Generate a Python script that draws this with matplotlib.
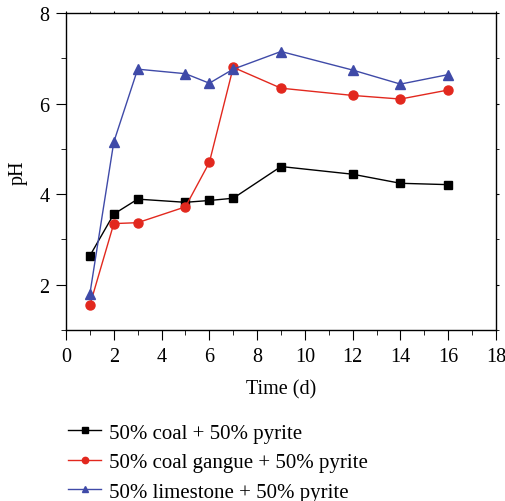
import matplotlib
matplotlib.use("Agg")
import matplotlib.pyplot as plt
from matplotlib.ticker import MultipleLocator

plt.rcParams['font.family'] = ['Liberation Serif', 'DejaVu Serif']

days = [1, 2, 3, 5, 6, 7, 9, 12, 14, 16]
ph_coal = [2.64, 3.56, 3.89, 3.82, 3.86, 3.91, 4.61, 4.44, 4.24, 4.21]
ph_gangue = [1.55, 3.35, 3.37, 3.72, 4.70, 6.80, 6.34, 6.18, 6.10, 6.30]
ph_lime = [1.80, 5.15, 6.76, 6.66, 6.45, 6.76, 7.15, 6.74, 6.43, 6.64]

labels = ['50% coal + 50% pyrite',
          '50% coal gangue + 50% pyrite',
          '50% limestone + 50% pyrite']

fig = plt.figure(figsize=(5.05, 5.02), dpi=100)
ax = fig.add_axes([0.1307, 0.3406, 0.8515, 0.6315])

ax.plot(days, ph_coal, color='black', marker='s', ms=6, lw=1.0, label=labels[0])
ax.plot(days, ph_gangue, color='#e2281e', marker='o', ms=6.5, lw=1.0, label=labels[1])
ax.plot(days, ph_lime, color='#3f4aa8', marker='^', ms=7, lw=1.0, label=labels[2])

ax.set_xlim(0, 18)
ax.set_ylim(1, 8)
ax.xaxis.set_major_locator(MultipleLocator(2))
ax.xaxis.set_minor_locator(MultipleLocator(1))
ax.yaxis.set_major_locator(MultipleLocator(2))
ax.yaxis.set_minor_locator(MultipleLocator(1))
ax.tick_params(which='both', direction='out', labelsize=14.5, pad=5)
ax.tick_params(which='major', length=7)
ax.tick_params(which='minor', length=3.5)
# short ticks on the top and right borders
ax.tick_params(which='both', top=True, right=True)
for t in ax.xaxis.get_ticklines(minor=False)[1::2] + ax.xaxis.get_ticklines(minor=True)[1::2]:
    t.set_markersize(1.5)
for t in ax.yaxis.get_ticklines(minor=False)[1::2] + ax.yaxis.get_ticklines(minor=True)[1::2]:
    t.set_markersize(2)
for s in ax.spines.values():
    s.set_linewidth(1.0)

ax.set_xlabel('Time (d)', fontsize=14.5, labelpad=10)
ax.set_ylabel('pH', fontsize=14.5, labelpad=8)

fig.legend(loc='upper left', bbox_to_anchor=(0.118, 0.172), frameon=False,
           fontsize=15, handlelength=1.6, handletextpad=0.35, labelspacing=0.48,
           markerscale=0.7, borderaxespad=0)

fig.savefig('out.png', dpi=100)
